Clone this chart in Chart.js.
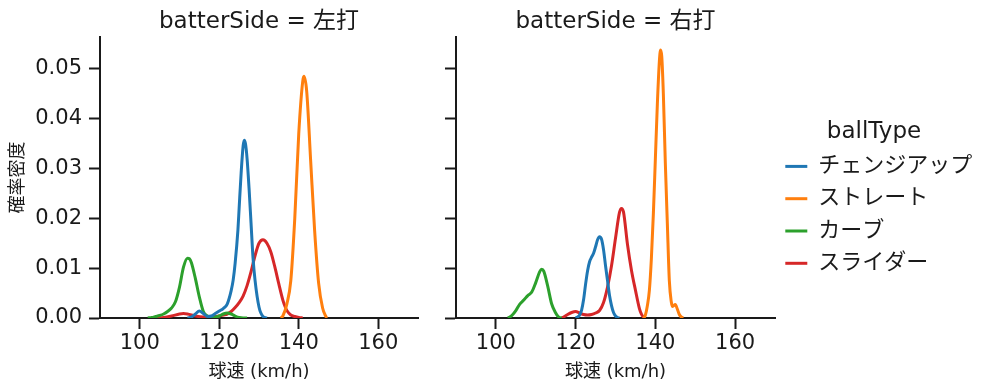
<!DOCTYPE html>
<html>
<head>
<meta charset="utf-8">
<script src="https://cdn.jsdelivr.net/npm/chart.js@4.4.0/dist/chart.umd.min.js"></script>
<style>
html,body{margin:0;padding:0;background:#fff;}
#wrap{position:relative;width:999px;height:391px;overflow:hidden;background:#fff;}
canvas{position:absolute;top:0;}
#c1{left:0;}
#c2{left:420px;}
</style>
</head>
<body>
<div id="wrap">
<canvas id="c1" width="430" height="391"></canvas>
<canvas id="c2" width="579" height="391"></canvas>
</div>
<script>
// ---- data ----
const categories = ['チェンジアップ', 'ストレート', 'カーブ', 'スライダー'];
const panels = ['左打', '右打'];
const xTicks = [100, 120, 140, 160];
const yTicks = [0, 0.01, 0.02, 0.03, 0.04, 0.05];

// 左打
const leftChangeupSpeed   = [112,113,114,115,116,117,118,119,120,121,122,123,123.5,124,124.7,125,125.5,126,126.3,126.6,127,127.5,128,128.5,129,130,131,132];
const leftChangeupDensity = [0,0.0002,0.0008,0.0014,0.0009,0.0003,0.0004,0.0009,0.0014,0.0019,0.0028,0.0055,0.0076,0.011,0.0177,0.022,0.029,0.0345,0.0357,0.035,0.032,0.026,0.019,0.012,0.0076,0.0022,0.0003,0];
const leftStraightSpeed   = [135.5,136,137,138,139,140,141,141.3,142,143,144,145,146,147];
const leftStraightDensity = [0,0.0004,0.0028,0.0075,0.020,0.037,0.0475,0.0485,0.0455,0.0315,0.0175,0.007,0.002,0];
const leftCurveSpeed      = [102,103,104,105,106,107,108,109,110,111,112,112.5,113,114,115,116,117,118,119,120,121,122,123,124,125,126,127];
const leftCurveDensity    = [0,0.0001,0.0003,0.0005,0.0008,0.0013,0.002,0.0033,0.0062,0.0102,0.012,0.0119,0.0111,0.0079,0.0042,0.0013,0.0004,0.0002,0.0002,0.0004,0.0008,0.001,0.0008,0.0004,0.0001,0,0];
const leftSliderSpeed     = [104,106,108,110,111,112,114,116,118,120,121,122,123,124,125,126,127,128,129,130,131,132,133,134,135,136,136.7,137,138,139,140,141];
const leftSliderDensity   = [0,0.0001,0.0004,0.0008,0.0009,0.0008,0.0004,0.0002,0.0002,0.0004,0.0006,0.0008,0.0013,0.0021,0.0031,0.0044,0.0065,0.0093,0.0125,0.015,0.0157,0.015,0.0132,0.0102,0.0068,0.0036,0.002,0.0015,0.0006,0.0003,0.0001,0];

// 右打
const rightChangeupSpeed   = [120,120.5,121,121.5,122,122.5,123,123.5,124,124.5,125,125.5,126,126.5,127,127.5,128,128.5,129,129.5,130,130.5,131];
const rightChangeupDensity = [0,0.0002,0.0006,0.0016,0.0037,0.0068,0.0095,0.0113,0.0122,0.013,0.0143,0.0157,0.0163,0.0158,0.0137,0.0105,0.0075,0.0045,0.0025,0.0011,0.0004,0.0001,0];
const rightStraightSpeed   = [137,137.5,138,138.5,139,139.5,140,140.5,141,141.3,141.6,142,142.5,143,143.5,144,144.3,145,145.5,146,146.5,147];
const rightStraightDensity = [0,0.0006,0.0025,0.0056,0.012,0.021,0.032,0.043,0.0515,0.0538,0.0525,0.045,0.031,0.019,0.0075,0.0032,0.0023,0.0027,0.0018,0.0007,0.0002,0];
const rightCurveSpeed      = [103,103.5,104,105,106,107,108,108.5,109,110,111,111.5,112,113,114,115,115.5,116,116.5];
const rightCurveDensity    = [0,0.0002,0.0005,0.0015,0.0028,0.0036,0.0045,0.0048,0.0052,0.0071,0.0093,0.0098,0.0094,0.0064,0.0028,0.001,0.0004,0.0001,0];
const rightSliderSpeed     = [116.5,117,118,119,120,121,122,123,124,125,126,127,128,129,130,131,131.5,132,133,134,135,136,136.5,137,137.5];
const rightSliderDensity   = [0,0.0002,0.0007,0.0011,0.0013,0.001,0.0007,0.0006,0.0007,0.001,0.0015,0.0031,0.0062,0.0105,0.016,0.0212,0.022,0.0213,0.0148,0.0096,0.0056,0.0019,0.0008,0.0002,0];

const colors = ['#1f77b4', '#ff7f0e', '#2ca02c', '#d62728'];

// ---- build ----
const FONT = "'DejaVu Sans', 'Noto Sans CJK JP', sans-serif";
const INK = '#1a1a1a';

function zip(xs, ys) { return xs.map((x, i) => ({x: x, y: ys[i]})); }

const leftSeries = [
  zip(leftChangeupSpeed, leftChangeupDensity),
  zip(leftStraightSpeed, leftStraightDensity),
  zip(leftCurveSpeed, leftCurveDensity),
  zip(leftSliderSpeed, leftSliderDensity)
];
const rightSeries = [
  zip(rightChangeupSpeed, rightChangeupDensity),
  zip(rightStraightSpeed, rightStraightDensity),
  zip(rightCurveSpeed, rightCurveDensity),
  zip(rightSliderSpeed, rightSliderDensity)
];

function datasets(series) {
  return series.map((pts, i) => ({
    label: categories[i],
    data: pts,
    borderColor: colors[i],
    backgroundColor: colors[i],
    borderWidth: 3,
    pointRadius: 0,
    pointHoverRadius: 0,
    fill: false,
    cubicInterpolationMode: 'monotone'
  }));
}

function options(isLeft, panel) {
  const gridOpts = {display: true, drawOnChartArea: false, drawTicks: true, tickLength: 11, tickWidth: 2, tickColor: INK};
  const borderOpts = {display: true, width: 2, color: INK};
  return {
    responsive: false,
    animation: false,
    devicePixelRatio: 1,
    events: [],
    layout: {padding: isLeft ? {left: 0, right: 12, top: 0, bottom: 0} : {left: 0, right: 26, top: 0, bottom: 0}},
    scales: {
      x: {
        type: 'linear', min: 90, max: 170,
        afterBuildTicks: s => { s.ticks = xTicks.map(v => ({value: v})); },
        afterFit: s => { s.height = 73; },
        ticks: {font: {size: 21, family: FONT}, color: INK, padding: 2, maxRotation: 0, autoSkip: false, callback: v => String(v)},
        grid: gridOpts,
        border: borderOpts,
        title: {display: true, text: '球速 (km/h)', font: {size: 18, family: FONT}, color: INK, padding: {top: 0, bottom: 8}}
      },
      y: {
        type: 'linear', min: 0, max: 0.0564,
        afterBuildTicks: s => { s.ticks = yTicks.map(v => ({value: v})); },
        afterFit: s => { s.width = isLeft ? 100 : 36; },
        ticks: {font: {size: 21, family: FONT}, color: INK, padding: 7, autoSkip: false, callback: v => isLeft ? Number(v).toFixed(2) : ''},
        grid: gridOpts,
        border: borderOpts,
        title: {display: isLeft, text: '確率密度', font: {size: 18, family: FONT}, color: INK, padding: {top: 8, bottom: 0}}
      }
    },
    plugins: {
      title: {display: true, text: 'batterSide = ' + panel, fullSize: false, font: {size: 23, family: FONT, weight: 'normal'}, color: INK, padding: {top: 8, bottom: 1.4}},
      tooltip: {enabled: false},
      legend: isLeft ? {display: false} : {
        display: true, position: 'right', align: 'start', maxWidth: 198,
        title: {display: true, text: 'ballType', color: INK, font: {size: 23, family: FONT}, padding: {top: 121, bottom: -3.5}},
        labels: {
          boxWidth: 22, boxHeight: 3, padding: 10.3, color: INK,
          font: {size: 22, family: FONT},
          generateLabels: chart => chart.data.datasets.map((d, i) => ({
            text: d.label, fillStyle: d.borderColor, strokeStyle: d.borderColor, lineWidth: 0, hidden: false, datasetIndex: i, fontColor: INK
          }))
        }
      }
    }
  };
}

new Chart(document.getElementById('c1'), {type: 'line', data: {datasets: datasets(leftSeries)}, options: options(true, panels[0])});
new Chart(document.getElementById('c2'), {type: 'line', data: {datasets: datasets(rightSeries)}, options: options(false, panels[1])});
</script>
</body>
</html>
